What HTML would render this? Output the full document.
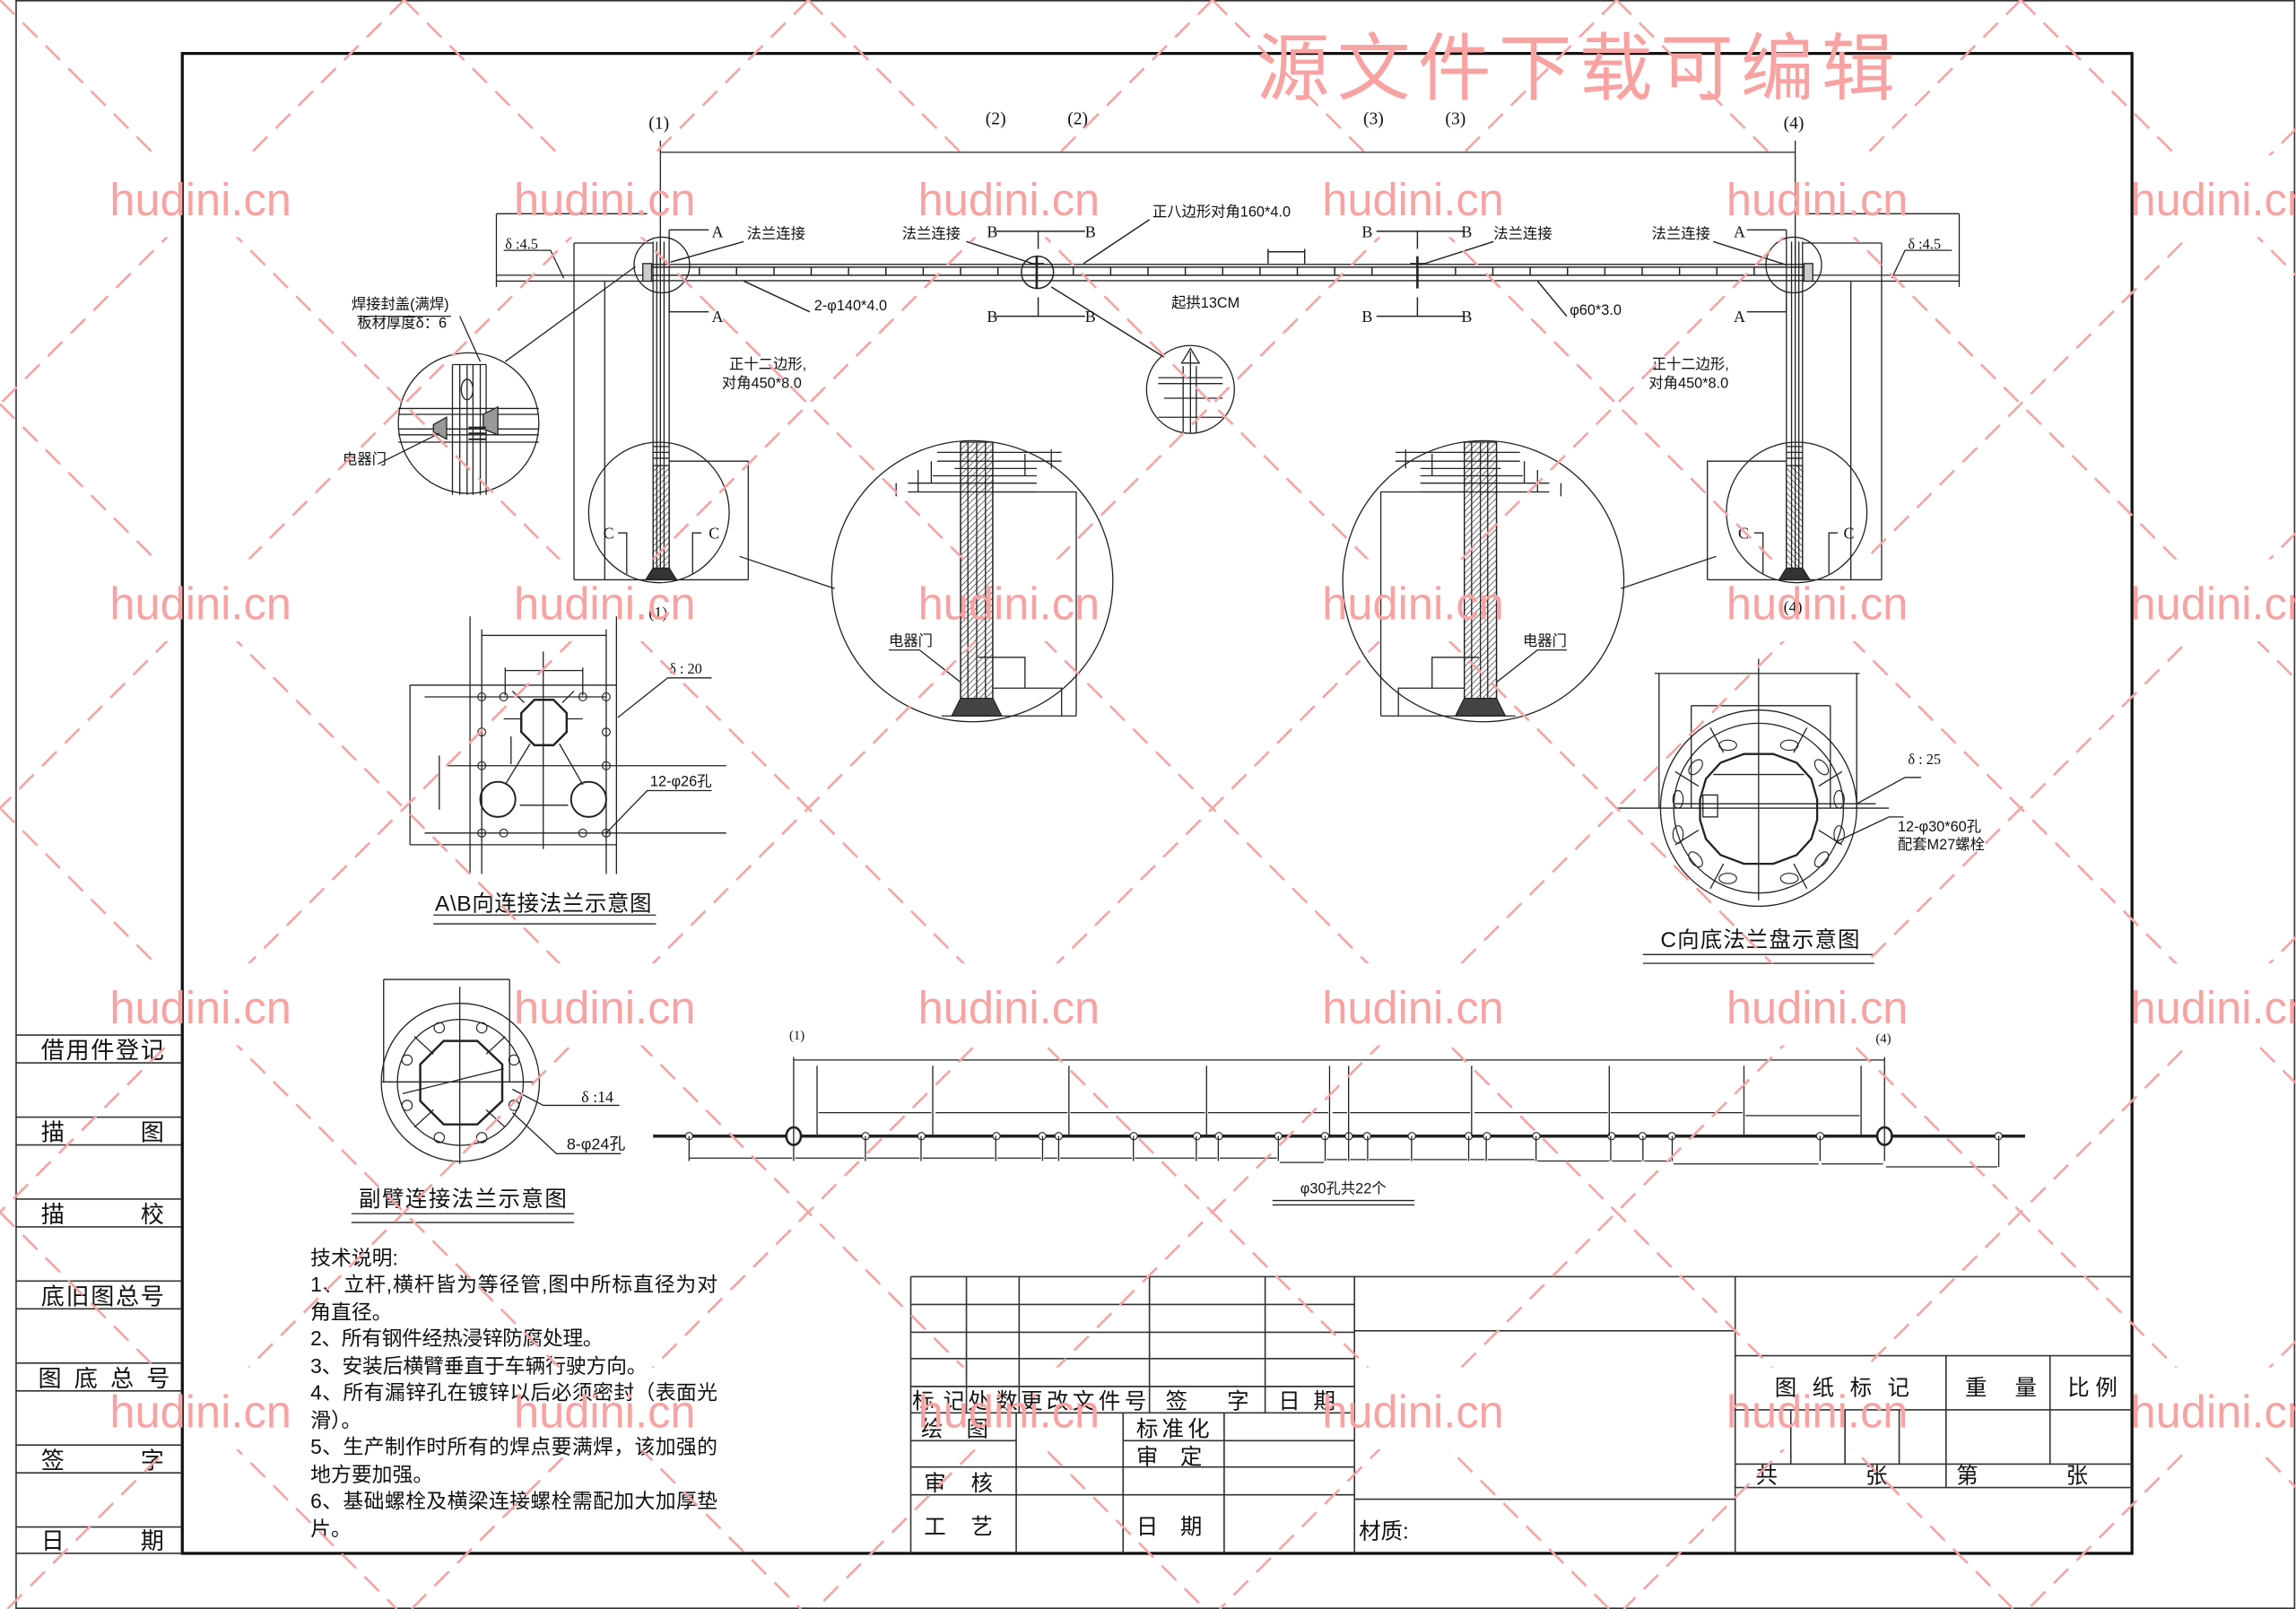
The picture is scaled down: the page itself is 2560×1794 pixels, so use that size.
<!DOCTYPE html>
<html><head><meta charset="utf-8">
<style>
html,body{margin:0;padding:0;background:#fff;}
svg{display:block;}
text{font-family:"Liberation Sans","Noto Sans CJK SC",sans-serif;fill:#111;}
.s{font-family:"Liberation Serif","Noto Sans CJK SC",serif;}
text.wm{fill:#f8a2a2;}
</style></head><body>
<svg width="2560" height="1794" viewBox="0 0 1568 1099" preserveAspectRatio="none" xmlns="http://www.w3.org/2000/svg">
<defs>
<pattern id="hatch" width="3" height="3" patternUnits="userSpaceOnUse" patternTransform="rotate(45)">
<line x1="0" y1="0" x2="0" y2="3" stroke="#222" stroke-width="0.8"/>
</pattern>
<mask id="wm">
<rect x="0" y="0" width="1568" height="1099" fill="#fff"/>
<g fill="#000">
<rect x="70" y="106" width="136" height="56"/><rect x="346" y="106" width="136" height="56"/><rect x="622" y="106" width="136" height="56"/><rect x="898" y="106" width="136" height="56"/><rect x="1174" y="106" width="136" height="56"/><rect x="1450" y="106" width="136" height="56"/>
<rect x="70" y="382" width="136" height="56"/><rect x="346" y="382" width="136" height="56"/><rect x="622" y="382" width="136" height="56"/><rect x="898" y="382" width="136" height="56"/><rect x="1174" y="382" width="136" height="56"/><rect x="1450" y="382" width="136" height="56"/>
<rect x="70" y="658" width="136" height="56"/><rect x="346" y="658" width="136" height="56"/><rect x="622" y="658" width="136" height="56"/><rect x="898" y="658" width="136" height="56"/><rect x="1174" y="658" width="136" height="56"/><rect x="1450" y="658" width="136" height="56"/>
<rect x="70" y="934" width="136" height="56"/><rect x="346" y="934" width="136" height="56"/><rect x="622" y="934" width="136" height="56"/><rect x="898" y="934" width="136" height="56"/><rect x="1174" y="934" width="136" height="56"/><rect x="1450" y="934" width="136" height="56"/>
</g>
</mask>
</defs>
<rect width="1568" height="1099" fill="#fff"/>

<!-- frames -->
<rect x="11" y="0.5" width="1556" height="1098" fill="none" stroke="#333" stroke-width="1"/>
<rect x="124.5" y="36.5" width="1331.5" height="1024.5" fill="none" stroke="#111" stroke-width="2"/>

<!-- left strip -->
<g stroke="#333" stroke-width="1">
<line x1="11" y1="707" x2="124" y2="707"/><line x1="11" y1="726" x2="124" y2="726"/>
<line x1="11" y1="763" x2="124" y2="763"/><line x1="11" y1="782" x2="124" y2="782"/>
<line x1="11" y1="819" x2="124" y2="819"/><line x1="11" y1="838" x2="124" y2="838"/>
<line x1="11" y1="875" x2="124" y2="875"/><line x1="11" y1="894" x2="124" y2="894"/>
<line x1="11" y1="931" x2="124" y2="931"/><line x1="11" y1="950" x2="124" y2="950"/>
<line x1="11" y1="987" x2="124" y2="987"/><line x1="11" y1="1006" x2="124" y2="1006"/>
<line x1="11" y1="1043" x2="124" y2="1043"/><line x1="11" y1="1061" x2="124" y2="1061"/>
</g>
<g font-size="16">
<text x="28" y="723" textLength="84">借用件登记</text>
<text x="28" y="779">描</text><text x="96" y="779">图</text>
<text x="28" y="835">描</text><text x="96" y="835">校</text>
<text x="28" y="891" textLength="84">底旧图总号</text>
<text x="26" y="947" textLength="90">图 底 总 号</text>
<text x="28" y="1003">签</text><text x="96" y="1003">字</text>
<text x="28" y="1058">日</text><text x="96" y="1058">期</text>
</g>

<!-- title block -->
<g stroke="#333" stroke-width="1" fill="none">
<line x1="622" y1="872" x2="1456" y2="872"/>
<line x1="622" y1="872" x2="622" y2="1061"/>
<line x1="622" y1="891" x2="925" y2="891"/><line x1="622" y1="910" x2="925" y2="910"/>
<line x1="622" y1="928" x2="925" y2="928"/><line x1="622" y1="947" x2="925" y2="947"/>
<line x1="622" y1="965" x2="925" y2="965"/>
<line x1="660" y1="872" x2="660" y2="965"/><line x1="696" y1="872" x2="696" y2="965"/>
<line x1="785" y1="872" x2="785" y2="965"/><line x1="864" y1="872" x2="864" y2="965"/>
<line x1="925" y1="872" x2="925" y2="1061"/>
<line x1="622" y1="984" x2="694" y2="984"/><line x1="767" y1="984" x2="925" y2="984"/>
<line x1="622" y1="1002" x2="925" y2="1002"/><line x1="622" y1="1021" x2="925" y2="1021"/>
<line x1="694" y1="965" x2="694" y2="1061"/><line x1="767" y1="965" x2="767" y2="1061"/>
<line x1="836" y1="965" x2="836" y2="1061"/>
<line x1="925" y1="909" x2="1185" y2="909"/><line x1="925" y1="1024" x2="1185" y2="1024"/>
<line x1="1185" y1="872" x2="1185" y2="1061"/>
<line x1="1185" y1="926" x2="1456" y2="926"/><line x1="1185" y1="963" x2="1456" y2="963"/>
<line x1="1185" y1="1000" x2="1456" y2="1000"/><line x1="1185" y1="1016" x2="1456" y2="1016"/>
<line x1="1329" y1="926" x2="1329" y2="1016"/><line x1="1400" y1="926" x2="1400" y2="1000"/>
<line x1="1223" y1="963" x2="1223" y2="1000"/><line x1="1260" y1="963" x2="1260" y2="1000"/><line x1="1297" y1="963" x2="1297" y2="1000"/>
</g>
<g font-size="15">
<text x="623" y="962" textLength="36">标记</text>
<text x="661" y="962" textLength="34">处数</text>
<text x="697" y="962" textLength="86">更改文件号</text>
<text x="796" y="962">签</text><text x="838" y="962">字</text>
<text x="873" y="962">日</text><text x="897" y="962">期</text>
<text x="629" y="981">绘</text><text x="660" y="981">图</text>
<text x="776" y="981" textLength="50">标准化</text>
<text x="776" y="1000">审</text><text x="806" y="1000">定</text>
<text x="631" y="1018">审</text><text x="663" y="1018">核</text>
<text x="631" y="1048">工</text><text x="663" y="1048">艺</text>
<text x="776" y="1048">日</text><text x="806" y="1048">期</text>
<text x="928" y="1051">材质:</text>
<text x="1212" y="953" textLength="92">图 纸 标 记</text>
<text x="1342" y="953">重</text><text x="1376" y="953">量</text>
<text x="1412" y="953" textLength="34">比例</text>
<text x="1199" y="1013">共</text><text x="1274" y="1013">张</text>
<text x="1336" y="1013">第</text><text x="1411" y="1013">张</text>
</g>

<!-- tech notes -->
<g font-size="14">
<text x="212" y="864">技术说明:</text>
<text x="212" y="882" textLength="278">1、立杆,横杆皆为等径管,图中所标直径为对</text>
<text x="212" y="901">角直径。</text>
<text x="212" y="919" textLength="200">2、所有钢件经热浸锌防腐处理。</text>
<text x="212" y="938" textLength="230">3、安装后横臂垂直于车辆行驶方向。</text>
<text x="212" y="956" textLength="278">4、所有漏锌孔在镀锌以后必须密封（表面光</text>
<text x="212" y="975">滑）。</text>
<text x="212" y="993" textLength="278">5、生产制作时所有的焊点要满焊，该加强的</text>
<text x="212" y="1012">地方要加强。</text>
<text x="212" y="1030" textLength="278">6、基础螺栓及横梁连接螺栓需配加大加厚垫</text>
<text x="212" y="1049">片。</text>
</g>

<!-- top labels and dims -->
<g font-size="12">
<text x="443" y="88" class="s">(1)</text>
<text x="673" y="85" class="s">(2)</text><text x="729" y="85" class="s">(2)</text>
<text x="931" y="85" class="s">(3)</text><text x="987" y="85" class="s">(3)</text>
<text x="1218" y="88" class="s">(4)</text>
</g>
<g stroke="#222" stroke-width="0.8" fill="none">
<line x1="451" y1="104" x2="1226" y2="104"/>
<line x1="451" y1="96" x2="451" y2="180"/><line x1="1226" y1="96" x2="1226" y2="180"/>
</g>

<!-- beam -->
<g stroke="#222" stroke-width="0.9" fill="none">
<line x1="440" y1="180.6" x2="1237" y2="180.6"/>
<line x1="440" y1="182.5" x2="1237" y2="182.5"/>
<line x1="440" y1="188" x2="1237" y2="188"/>
<line x1="440" y1="191.7" x2="1237" y2="191.7"/>
<path d="M477.6 182.5V188M503 182.5V188M528.6 182.5V188M554 182.5V188M579.5 182.5V188M605 182.5V188M630.5 182.5V188M656 182.5V188M681.5 182.5V188M733 182.5V188M758.5 182.5V188M784 182.5V188M809.5 182.5V188M835 182.5V188M860.5 182.5V188M886 182.5V188M911.5 182.5V188M937 182.5V188M994 182.5V188M1019.5 182.5V188M1045 182.5V188M1070.5 182.5V188M1096 182.5V188M1121.5 182.5V188M1147 182.5V188M1172.5 182.5V188M1198 182.5V188"/>
<line x1="708" y1="175" x2="708" y2="197" stroke-width="1.6"/>
<line x1="703" y1="180" x2="713" y2="180"/>
<line x1="968" y1="175" x2="968" y2="197" stroke-width="1.6"/>
<line x1="963" y1="180" x2="973" y2="180"/>
<ellipse cx="708.5" cy="186" rx="11" ry="11"/>
<path d="M866 180V170M891 180V170M866 172H891"/>
<path d="M680 158H741M709 158V170M680 216H741M709 216V203M940 158H1000M968 158V170M940 216H1000M968 216V203"/>
<path d="M508 165L458 179M660 165L705 180M785 150L740 180M553 213L508 192M1020 165L970 181M1170 165L1220 181M1070 216L1050 192M718 196L795 244"/>
</g>
<g font-size="11">
<text x="674" y="162" class="s">B</text><text x="741" y="162" class="s">B</text>
<text x="674" y="220" class="s">B</text><text x="741" y="220" class="s">B</text>
<text x="930" y="162" class="s">B</text><text x="998" y="162" class="s">B</text>
<text x="930" y="220" class="s">B</text><text x="998" y="220" class="s">B</text>
<text x="486" y="162" class="s">A</text><text x="486" y="220" class="s">A</text>
<text x="1184" y="162" class="s">A</text><text x="1184" y="220" class="s">A</text>
</g>
<g font-size="10">
<text x="510" y="163">法兰连接</text>
<text x="616" y="163">法兰连接</text>
<text x="1020" y="163">法兰连接</text>
<text x="1128" y="163">法兰连接</text>
<text x="787" y="148">正八边形对角160*4.0</text>
<text x="556" y="212">2-φ140*4.0</text>
<text x="800" y="210">起拱13CM</text>
<text x="1072" y="215">φ60*3.0</text>
<text x="498" y="252">正十二边形,</text>
<text x="493" y="265">对角450*8.0</text>
<text x="1128" y="252">正十二边形,</text>
<text x="1126" y="265">对角450*8.0</text>
<text x="240" y="211">焊接封盖(满焊)</text>
<text x="244" y="224">板材厚度δ：6</text>
<text x="234" y="317">电器门</text>
<text x="345" y="170" class="s">δ :4.5</text>
<text x="1303" y="170" class="s">δ :4.5</text>
<text x="607" y="441">电器门</text>
<text x="1040" y="441">电器门</text>
</g>

<!-- left pole group (mirrored for right) -->
<g id="pole" stroke="#222" stroke-width="0.8" fill="none">
<line x1="446" y1="165" x2="446" y2="396"/><line x1="448.5" y1="165" x2="448.5" y2="396"/>
<line x1="451" y1="165" x2="451" y2="396"/><line x1="453.5" y1="165" x2="453.5" y2="396"/>
<line x1="457" y1="165" x2="457" y2="396"/>
<rect x="446" y="318" width="11" height="76" fill="url(#hatch)"/>
<path d="M446 305H457M446 309H457M446 313H457"/>
<path d="M441 396L446 388H457L462 396Z" fill="#333"/>
<line x1="339" y1="188" x2="446" y2="188"/><line x1="339" y1="192" x2="446" y2="192"/>
<path d="M339 182V196M339 146H442M339 146V192M392 166H446M392 166V396M413 192V396M392 396H511M457 315H511V396"/>
<path d="M344 171H376L385 190"/>
<circle cx="452" cy="181" r="19"/>
<rect x="439" y="180" width="6" height="12" fill="#ccc"/>
<path d="M457 157H484M457 157V165M457 213H484M457 213V200"/>
<circle cx="450" cy="350" r="48"/>
<path d="M422 364H428V392M479 364H473V392"/>
<path d="M505 380L570 402"/>
</g>
<use href="#pole" transform="translate(1677,0) scale(-1,1)"/>

<!-- left detail circle -->
<g stroke="#222" stroke-width="0.8" fill="none">
<circle cx="320" cy="289" r="48"/>
<path d="M345 247L434 182"/>
<path d="M309 249V338M314 249V338M319 249V338M323 249V338M328 249V338M332 249V338M309 249H332"/>
<path d="M272 279H368M272 283H368M272 293H368M272 297H368M272 302H368"/>
<path d="M296 290L305 285V300L296 295Z M330 283L340 278V297L330 293Z" fill="#999"/>
<path d="M320 296H332M320 300H332M320 292H332" stroke-width="1.2"/>
<ellipse cx="319" cy="266" rx="4" ry="7"/>
<path d="M328 247L314 216M308 216H244M258 317L300 296"/>
</g>

<g font-size="11">
<text x="412" y="368" class="s">C</text><text x="484" y="368" class="s">C</text>
<text x="1187" y="368" class="s">C</text><text x="1259" y="368" class="s">C</text>
<text x="443" y="422" class="s">(1)</text><text x="1218" y="418" class="s">(4)</text>
</g>

<!-- small detail circle -->
<g stroke="#222" stroke-width="0.8" fill="none">
<circle cx="813" cy="266" r="30"/>
<path d="M813 240V296M817 250V296M808 250V296M791 258H835M791 262H835M795 272H835M791 285H835M813 238L807 248H819Z"/>
</g>

<!-- big detail circles -->
<g stroke="#222" stroke-width="0.8" fill="none">
<circle cx="664" cy="397" r="96"/>
<rect x="656" y="302" width="22" height="187" fill="url(#hatch)"/>
<path d="M656 302V489M661 302V489M667 302V489M673 302V489M678 302V489"/>
<path d="M620 336H708M620 330H708M637 325H708M652 320H708M640 309H725M640 315H725M612 330V339M627 321V336M636 315V330M700 310V325M718 307V320"/>
<path d="M678 336H735V489M678 470H725V489M668 449H700V470"/>
<path d="M650 489L656 477H678L684 489Z" fill="#444"/>
<path d="M643 489H735"/>
<path d="M607 444H628L656 466"/>
<circle cx="1013" cy="397" r="96"/>
<rect x="1000" y="302" width="22" height="187" fill="url(#hatch)"/>
<path d="M1000 302V489M1005 302V489M1011 302V489M1016 302V489M1022 302V489"/>
<path d="M970 336H1058M970 330H1058M970 325H1040M970 320H1025M953 309H1038M953 315H1038M1066 330V339M1050 321V336M1041 315V330M978 310V325M960 307V320"/>
<path d="M1000 336H943V489M1000 470H955V489M1010 449H978V470"/>
<path d="M994 489L1000 477H1022L1028 489Z" fill="#444"/>
<path d="M943 489H1035"/>
<path d="M1070 444H1050L1022 466"/>
</g>

<!-- A\B flange -->
<g stroke="#222" stroke-width="0.8" fill="none">
<path d="M321 421V597M421 421V597M329 430V597M414 430V597M329 434H414M345 456V475M398 456V475M345 458H398M280 468H421M280 577H421M290 476H414M290 569H496M280 468V577M371 445V580M305 523H496M300 516V553M349 503V522"/>
<polygon points="365,478 378,478 387,487 387,500 378,509 365,509 356,500 356,487" stroke-width="1.5"/>
<path d="M350 472L358 480M392 472L384 480M344 491H356M387 491H398M362 508L345 536M382 508L398 536M355 550H388"/>
<circle cx="340" cy="546" r="12" stroke-width="1.2"/><circle cx="402" cy="546" r="12" stroke-width="1.2"/>
<g stroke-width="0.7">
<circle cx="329" cy="476" r="2.7"/><circle cx="344" cy="476" r="2.7"/><circle cx="398" cy="476" r="2.7"/><circle cx="414" cy="476" r="2.7"/>
<circle cx="329" cy="500" r="2.7"/><circle cx="414" cy="500" r="2.7"/>
<circle cx="329" cy="523" r="2.7"/><circle cx="414" cy="523" r="2.7"/>
<circle cx="329" cy="569" r="2.7"/><circle cx="344" cy="569" r="2.7"/><circle cx="398" cy="569" r="2.7"/><circle cx="414" cy="569" r="2.7"/>
</g>
<path d="M422 490L456 463H486M414 569L442 540H486M296 625H448M296 631H448"/>
</g>
<text x="457" y="460" font-size="10" class="s">δ : 20</text>
<text x="444" y="537" font-size="10">12-φ26孔</text>
<text x="297" y="622" font-size="15" textLength="148">A\B向连接法兰示意图</text>

<!-- C flange -->
<g stroke="#222" stroke-width="0.8" fill="none">
<circle cx="1201" cy="552" r="67"/>
<circle cx="1201" cy="552" r="58"/>
<polygon points="1211,515 1227,521 1237,532 1241,546 1241,560 1237,573 1227,584 1211,590 1191,590 1175,584 1165,573 1161,560 1161,546 1165,532 1175,521 1191,515" stroke-width="1.4"/>
<path d="M1130 460H1270M1133 460V552M1268 460V552M1155 482H1250M1155 482V552M1250 482V552M1201 450V615M1104 552H1290M1143 549H1281M1201 525V515M1201 590V600M1170 529H1232"/>
<rect x="1163" y="543" width="10" height="15"/>
<path d="M1177 514L1168 497M1225 514L1234 497M1160 537L1144 527M1242 537L1258 527M1160 567L1144 577M1242 567L1258 577M1177 590L1168 607M1225 590L1234 607"/>
<g stroke-width="0.7">
<ellipse cx="1180" cy="509" rx="6" ry="3.5"/><ellipse cx="1222" cy="509" rx="6" ry="3.5"/>
<ellipse cx="1158" cy="524" rx="6" ry="3.5" transform="rotate(-50 1158 524)"/><ellipse cx="1244" cy="524" rx="6" ry="3.5" transform="rotate(50 1244 524)"/>
<ellipse cx="1146" cy="546" rx="3.5" ry="6"/><ellipse cx="1256" cy="546" rx="3.5" ry="6"/>
<ellipse cx="1146" cy="570" rx="3.5" ry="6"/><ellipse cx="1256" cy="570" rx="3.5" ry="6"/>
<ellipse cx="1158" cy="587" rx="6" ry="3.5" transform="rotate(50 1158 587)"/><ellipse cx="1244" cy="587" rx="6" ry="3.5" transform="rotate(-50 1244 587)"/>
<ellipse cx="1180" cy="600" rx="6" ry="3.5"/><ellipse cx="1222" cy="600" rx="6" ry="3.5"/>
</g>
<path d="M1268 549L1301 531H1312M1254 575L1290 558H1300M1122 652H1280M1122 658H1280"/>
</g>
<text x="1303" y="522" font-size="10" class="s">δ : 25</text>
<text x="1296" y="568" font-size="10">12-φ30*60孔</text>
<text x="1296" y="580" font-size="10">配套M27螺栓</text>
<text x="1134" y="647" font-size="15" textLength="136">C向底法兰盘示意图</text>

<!-- 副臂 flange -->
<g stroke="#222" stroke-width="0.8" fill="none">
<circle cx="314.4" cy="739.3" r="54"/>
<circle cx="314.4" cy="739.3" r="43"/>
<polygon points="303,711 326,711 343,727 343,752 326,768 303,768 287,752 287,727" stroke-width="1.5"/>
<path d="M261 739H365M314 702V776M286 739H294M335 739H344M314 699V710M314 768V778M262 669H348M262 669V739M348 669V739M314 674V795M275 747L344 730"/>
<path d="M283 708L296 720M345 708L332 720M283 770L296 758M345 770L332 758"/>
<g stroke-width="0.7">
<circle cx="300" cy="702" r="3.5"/><circle cx="329" cy="702" r="3.5"/>
<circle cx="278" cy="724" r="3.5"/><circle cx="351" cy="724" r="3.5"/>
<circle cx="278" cy="755" r="3.5"/><circle cx="351" cy="755" r="3.5"/>
<circle cx="300" cy="777" r="3.5"/><circle cx="329" cy="777" r="3.5"/>
</g>
<path d="M350 744L371 755H423M350 760L380 788H424M240 829H392M240 835H392"/>
</g>
<text x="397" y="753" font-size="11" class="s">δ :14</text>
<text x="387" y="785" font-size="11">8-φ24孔</text>
<text x="245" y="824" font-size="15" textLength="142">副臂连接法兰示意图</text>

<!-- bottom dimension -->
<g stroke="#222" stroke-width="0.8" fill="none">
<line x1="446" y1="776" x2="1383" y2="776" stroke-width="2.2"/>
<ellipse cx="542" cy="776" rx="5" ry="6" fill="#fff" stroke-width="1.6"/>
<ellipse cx="1287" cy="776" rx="5" ry="6" fill="#fff" stroke-width="1.6"/>
<g fill="#fff" stroke-width="0.7">
<circle cx="470.6" cy="776" r="2.5"/><circle cx="591.2" cy="776" r="2.5"/><circle cx="629.3" cy="776" r="2.5"/><circle cx="680.5" cy="776" r="2.5"/><circle cx="711.8" cy="776" r="2.5"/><circle cx="723" cy="776" r="2.5"/><circle cx="774.3" cy="776" r="2.5"/><circle cx="817.4" cy="776" r="2.5"/><circle cx="832.4" cy="776" r="2.5"/><circle cx="873" cy="776" r="2.5"/><circle cx="904.9" cy="776" r="2.5"/><circle cx="921.1" cy="776" r="2.5"/><circle cx="933.6" cy="776" r="2.5"/><circle cx="964.2" cy="776" r="2.5"/><circle cx="1003" cy="776" r="2.5"/><circle cx="1015.5" cy="776" r="2.5"/><circle cx="1049.2" cy="776" r="2.5"/><circle cx="1100.5" cy="776" r="2.5"/><circle cx="1121.7" cy="776" r="2.5"/><circle cx="1141.7" cy="776" r="2.5"/><circle cx="1243" cy="776" r="2.5"/><circle cx="1364.8" cy="776" r="2.5"/>
</g>
<path d="M542 724H1287M542 722V776M1287 722V776"/>
<path d="M558 728V776M637 728V776M730 728V776M824 728V776M908 728V776M921 728V776M1005 728V776M1099 728V776M1191 728V776M1271 728V776"/>
<path d="M559 760H636M639 760H729M731 760H823M825 760H907M910 760H920M922 760H1004M1007 760H1098M1100 760H1190M1192 762H1270"/>
<path d="M470.6 776V793M542 776V793M591 776V793M629 776V793M680 776V793M712 776V793M723 776V793M774 776V793M817 776V793M832 776V793M873 776V793M905 776V793M921 776V793M934 776V793M964 776V793M1003 776V793M1015 776V793M1049 776V793M1100 776V793M1122 776V793M1142 776V793M1243 776V793M1287 776V793M1365 776V797"/>
<path d="M471 791H541M543 791H590M592 791H628M630 791H679M681 791H711M713 791H722M724 791H773M775 791H816M818 791H831M833 791H872M874 794H904M906 792H920M922 792H933M935 792H963M965 792H1002M1004 792H1014M1016 792H1048M1050 793H1099M1101 793H1121M1123 793H1141M1143 795H1242M1244 795H1286M1288 797H1364"/>
<path d="M869 820H966M869 823H966"/>
</g>
<text x="539" y="710" font-size="9" class="s">(1)</text>
<text x="1281" y="712" font-size="9" class="s">(4)</text>
<text x="888" y="815" font-size="10">φ30孔共22个</text>

<!-- watermark -->
<g mask="url(#wm)" stroke="#f7a3a3" stroke-width="1.6" stroke-dasharray="14,8" fill="none">
<path d="M0 0L1099 1099M276 0L1375 1099M552 0L1568 1016M828 0L1568 740M1104 0L1568 464M1380 0L1568 188M0 276L823 1099M0 552L547 1099M0 828L271 1099"/>
<path d="M276 0L0 276M552 0L0 552M828 0L0 828M1104 0L5 1099M1380 0L281 1099M1568 88L557 1099M1568 364L833 1099M1568 640L1109 1099M1568 916L1385 1099"/>
</g>
<g font-size="31" text-anchor="middle">
<text x="137" y="147" class="wm">hudini.cn</text><text x="413" y="147" class="wm">hudini.cn</text><text x="689" y="147" class="wm">hudini.cn</text><text x="965" y="147" class="wm">hudini.cn</text><text x="1241" y="147" class="wm">hudini.cn</text><text x="1517" y="147" class="wm">hudini.cn</text>
<text x="137" y="423" class="wm">hudini.cn</text><text x="413" y="423" class="wm">hudini.cn</text><text x="689" y="423" class="wm">hudini.cn</text><text x="965" y="423" class="wm">hudini.cn</text><text x="1241" y="423" class="wm">hudini.cn</text><text x="1517" y="423" class="wm">hudini.cn</text>
<text x="137" y="699" class="wm">hudini.cn</text><text x="413" y="699" class="wm">hudini.cn</text><text x="689" y="699" class="wm">hudini.cn</text><text x="965" y="699" class="wm">hudini.cn</text><text x="1241" y="699" class="wm">hudini.cn</text><text x="1517" y="699" class="wm">hudini.cn</text>
<text x="137" y="975" class="wm">hudini.cn</text><text x="413" y="975" class="wm">hudini.cn</text><text x="689" y="975" class="wm">hudini.cn</text><text x="965" y="975" class="wm">hudini.cn</text><text x="1241" y="975" class="wm">hudini.cn</text><text x="1517" y="975" class="wm">hudini.cn</text>
</g>
<text x="858" y="64" font-size="50" class="wm" textLength="436">源文件下载可编辑</text>
</svg>
</body></html>
